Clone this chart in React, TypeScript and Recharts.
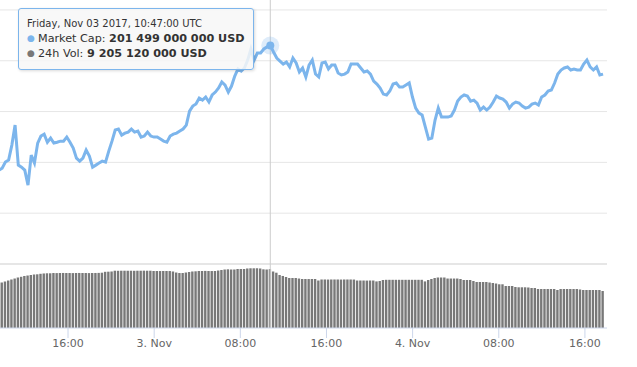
import { Bar, Cell, ComposedChart, Line, ReferenceDot, ReferenceLine, XAxis, YAxis } from 'recharts';

// one reading every 18 minutes, first at Nov 2 2017 09:35 UTC
const START = Date.UTC(2017, 10, 2, 9, 35);
const STEP = 18 * 60 * 1000;
const VIEW_FROM = Date.UTC(2017, 10, 2, 9, 41);
const VIEW_TO = Date.UTC(2017, 10, 4, 18, 3);

// market cap, bn USD
const marketCap = [
    189.24, 189.43, 190.03, 190.22, 191.7, 193.67, 189.73, 189.53, 189.24, 187.76,
    190.71, 189.93, 191.9, 192.59, 192.78, 191.98, 192.39, 191.9, 191.98, 192.09,
    192.09, 192.49, 191.98, 191.4, 190.42, 190.12, 190.42, 191.21, 190.62, 189.53,
    189.73, 189.93, 190.12, 190.03, 191.11, 192.09, 193.18, 193.28, 192.68, 192.88,
    192.98, 193.28, 192.98, 193.08, 192.49, 192.59, 192.98, 192.59, 192.49, 192.49,
    192.29, 192.09, 191.98, 192.59, 192.78, 192.88, 193.08, 193.28, 193.67, 195.05,
    195.54, 195.74, 196.33, 196.13, 196.43, 195.94, 196.63, 196.92, 197.32, 197.91,
    197.61, 196.92, 197.51, 198.5, 199.19, 198.99, 199.29, 200.07, 201.16, 200.07,
    200.76, 200.76, 201.16, 201.36, 201.499, 200.86, 200.27, 199.97, 199.68, 199.88,
    199.39, 200.27, 199.78, 198.89, 199.29, 198.4, 199.58, 200.07, 198.69, 198.4,
    199.78, 199.88, 199.19, 199.58, 199.58, 198.79, 198.6, 198.69, 198.89, 199.68,
    199.68, 199.68, 199.29, 198.89, 198.99, 198.69, 198.0, 197.71, 197.32, 196.72,
    196.63, 197.02, 197.71, 197.81, 197.41, 197.41, 197.61, 197.81, 196.43, 195.34,
    194.85, 194.66, 193.47, 192.29, 192.39, 194.16, 195.34, 194.46, 194.46, 194.46,
    194.56, 195.15, 196.03, 196.43, 196.63, 196.53, 196.03, 196.13, 195.84, 195.15,
    195.44, 195.15, 195.44, 195.94, 196.53, 196.33, 196.23, 195.94, 195.34, 195.74,
    195.94, 195.84, 195.54, 195.34, 195.44, 195.74, 195.84, 195.64, 196.43, 196.63,
    197.02, 197.12, 197.81, 198.69, 199.09, 199.29, 199.39, 199.09, 199.19, 199.09,
    199.09, 199.68, 200.07, 199.39, 199.09, 199.39, 198.6, 198.69,
];

// 24h volume, bn USD
const volume24h = [
    6.98, 7.11, 7.27, 7.42, 7.58, 7.73, 7.89, 8.0, 8.13, 8.2,
    8.28, 8.36, 8.39, 8.47, 8.52, 8.55, 8.55, 8.59, 8.58, 8.59,
    8.6, 8.59, 8.59, 8.58, 8.59, 8.6, 8.59, 8.59, 8.58, 8.59,
    8.6, 8.61, 8.64, 8.78, 8.8, 8.83, 8.95, 8.94, 8.95, 8.95,
    8.96, 8.95, 8.94, 8.95, 8.95, 8.96, 8.95, 8.95, 8.91, 8.91,
    8.9, 8.91, 8.91, 8.9, 8.83, 8.67, 8.59, 8.59, 8.67, 8.75,
    8.83, 8.86, 8.91, 8.91, 8.92, 8.91, 8.9, 8.91, 8.98, 9.06,
    9.14, 9.17, 9.14, 9.14, 9.22, 9.22, 9.22, 9.3, 9.33, 9.33,
    9.33, 9.3, 9.17, 9.14, 9.20512, 8.83, 8.64, 8.28, 8.13, 7.97,
    7.81, 7.81, 7.81, 7.73, 7.66, 7.66, 7.65, 7.66, 7.66, 7.42,
    7.58, 7.58, 7.57, 7.58, 7.58, 7.58, 7.57, 7.58, 7.58, 7.58,
    7.57, 7.42, 7.42, 7.42, 7.41, 7.42, 7.42, 7.28, 7.34, 7.5,
    7.53, 7.53, 7.53, 7.53, 7.53, 7.53, 7.53, 7.53, 7.53, 7.53,
    7.53, 7.53, 7.28, 7.5, 7.66, 7.81, 7.89, 7.89, 7.89, 7.73,
    7.73, 7.73, 7.73, 7.66, 7.5, 7.5, 7.5, 7.34, 7.19, 7.19,
    7.19, 7.19, 7.11, 7.03, 6.95, 6.83, 6.83, 6.56, 6.56, 6.56,
    6.41, 6.36, 6.36, 6.36, 6.33, 6.25, 6.25, 6.09, 6.09, 6.09,
    6.09, 6.09, 6.09, 5.94, 6.09, 6.09, 6.09, 6.09, 6.09, 6.09,
    6.02, 5.94, 5.94, 5.94, 5.94, 5.94, 5.94, 5.78,
];

const xTicks = [
    Date.UTC(2017, 10, 2, 16),
    Date.UTC(2017, 10, 3, 0),
    Date.UTC(2017, 10, 3, 8),
    Date.UTC(2017, 10, 3, 16),
    Date.UTC(2017, 10, 4, 0),
    Date.UTC(2017, 10, 4, 8),
    Date.UTC(2017, 10, 4, 16),
];

const capGrid = [185, 190, 195, 200, 205];
const capPaneFloor = 180;
const hoverIndex = 84; // Fri Nov 03 10:47 UTC

const LINE_COLOR = '#7cb5ec';
const BAR_COLOR = '#787878';

const DAYS = ['Sunday', 'Monday', 'Tuesday', 'Wednesday', 'Thursday', 'Friday', 'Saturday'];
const MONTHS = ['Jan', 'Feb', 'Mar', 'Apr', 'May', 'Jun', 'Jul', 'Aug', 'Sep', 'Oct', 'Nov', 'Dec'];

const pad = (n: number) => String(n).padStart(2, '0');

function tickLabel(ms: number): string {
    const d = new Date(ms);
    if (d.getUTCHours() === 0 && d.getUTCMinutes() === 0) {
        return `${d.getUTCDate()}. ${MONTHS[d.getUTCMonth()]}`;
    }
    return `${pad(d.getUTCHours())}:${pad(d.getUTCMinutes())}`;
}

function headerLabel(ms: number): string {
    const d = new Date(ms);
    return `${DAYS[d.getUTCDay()]}, ${MONTHS[d.getUTCMonth()]} ${pad(d.getUTCDate())} ${d.getUTCFullYear()}, ${pad(d.getUTCHours())}:${pad(d.getUTCMinutes())}:${pad(d.getUTCSeconds())} UTC`;
}

/** 201.499 (bn) → «201 499 000 000 USD» */
function usd(bn: number): string {
    const whole = Math.round(bn * 1e9).toString();
    return `${whole.replace(/\B(?=(\d{3})+(?!\d))/g, ' ')} USD`;
}

const rows = marketCap.map((cap, i) => ({ time: START + i * STEP, cap, vol: volume24h[i] }));
const hovered = rows[hoverIndex];

const bullet = (color: string) => (
    <span style={{ color, fontSize: 9, display: 'inline-block', width: 11, verticalAlign: 1 }}>●</span>
);

// static copy of the hover tooltip as it appears in the screenshot
function HoverBox() {
    return (
        <div
            style={{
                position: 'absolute',
                left: 18,
                top: 8,
                background: 'rgba(247,247,247,0.85)',
                border: `1px solid ${LINE_COLOR}`,
                borderRadius: 3,
                boxShadow: '1px 1px 3px rgba(0,0,0,0.15)',
                padding: '8px 8px 8px 8px',
                color: '#333333',
                whiteSpace: 'nowrap',
                pointerEvents: 'none',
            }}
        >
            <div style={{ fontSize: 10, lineHeight: '14px' }}>{headerLabel(hovered.time)}</div>
            <div style={{ fontSize: 11.2, lineHeight: '15px' }}>
                {bullet(LINE_COLOR)}Market Cap: <b>{usd(hovered.cap)}</b>
            </div>
            <div style={{ fontSize: 11.2, lineHeight: '15px' }}>
                {bullet(BAR_COLOR)}24h Vol: <b>{usd(hovered.vol)}</b>
            </div>
        </div>
    );
}

function HaloDot(props: any) {
    const { cx, cy } = props;
    return (
        <g>
            <circle cx={cx} cy={cy} r={9} fill={LINE_COLOR} fillOpacity={0.25} />
            <circle cx={cx} cy={cy} r={4} fill={LINE_COLOR} />
        </g>
    );
}

export default function App() {
    return (
        <div style={{ position: 'absolute', left: 0, top: 0, width: 637, height: 367, fontFamily: '"DejaVu Sans", sans-serif' }}>
            <ComposedChart width={637} height={367} data={rows} margin={{ top: 0, right: 30, bottom: 0, left: 0 }}>
                <XAxis
                    dataKey="time"
                    type="number"
                    domain={[VIEW_FROM, VIEW_TO]}
                    allowDataOverflow
                    ticks={xTicks}
                    interval={0}
                    tickFormatter={tickLabel}
                    tick={{ fill: '#666666', fontSize: 11 }}
                    tickSize={10}
                    tickMargin={1}
                    axisLine={{ stroke: '#ccd6eb' }}
                    tickLine={{ stroke: '#ccd6eb' }}
                    height={39}
                />
                <YAxis yAxisId="cap" hide domain={[173.7, 205.98]} allowDataOverflow />
                <YAxis yAxisId="vol" hide domain={[0, 51.25]} allowDataOverflow />
                {capGrid.map((v) => (
                    <ReferenceLine key={v} yAxisId="cap" y={v} stroke="#e6e6e6" strokeWidth={1} />
                ))}
                <ReferenceLine yAxisId="cap" y={capPaneFloor} stroke="#e6e6e6" strokeWidth={2} />
                <ReferenceLine yAxisId="cap" x={hovered.time} stroke="#cccccc" strokeWidth={1} />
                <Bar yAxisId="vol" dataKey="vol" name="24h Vol" fill={BAR_COLOR} barSize={2.4} isAnimationActive={false}>
                    {rows.map((r, i) => (
                        <Cell key={r.time} fill={i === hoverIndex ? '#8c8c8c' : BAR_COLOR} />
                    ))}
                </Bar>
                <Line
                    yAxisId="cap"
                    dataKey="cap"
                    name="Market Cap"
                    type="linear"
                    stroke={LINE_COLOR}
                    strokeWidth={3}
                    dot={false}
                    isAnimationActive={false}
                />
                <ReferenceDot yAxisId="cap" x={hovered.time} y={hovered.cap} shape={<HaloDot />} />
            </ComposedChart>
            <HoverBox />
        </div>
    );
}
